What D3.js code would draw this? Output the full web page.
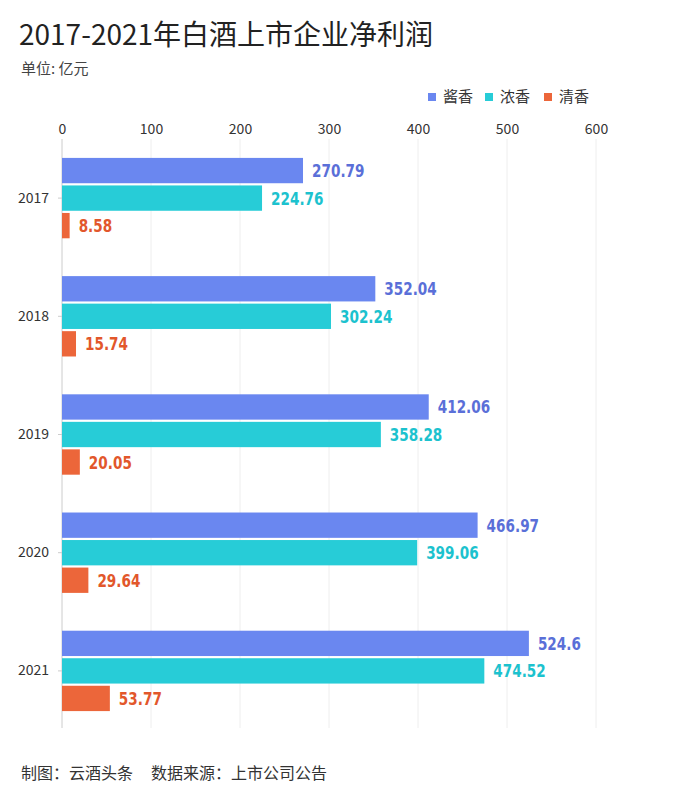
<!DOCTYPE html>
<html>
<head>
<meta charset="utf-8">
<script src="https://cdn.jsdelivr.net/npm/d3@7"></script>
<style>
  body { margin: 0; background: #fff; }
  svg { display: block; font-family: "Noto Sans CJK SC", "Noto Sans", sans-serif; }
  .grid line { stroke: #eeeeee; }
  .val { font-family: "DejaVu Sans Condensed", "DejaVu Sans", sans-serif; font-weight: bold; }
</style>
</head>
<body>
<div id="chart"></div>
<script>
// data
var years = ["2017", "2018", "2019", "2020", "2021"];
var series = ["酱香", "浓香", "清香"];
var jiangxiang = [270.79, 352.04, 412.06, 466.97, 524.6];
var nongxiang = [224.76, 302.24, 358.28, 399.06, 474.52];
var qingxiang = [8.58, 15.74, 20.05, 29.64, 53.77];
var xTicks = [0, 100, 200, 300, 400, 500, 600];

var barColors = ["#6a87f0", "#27ccd7", "#ec663a"];
var labelColors = ["#5a6fd8", "#1cc2ce", "#e2572b"];

var width = 700, height = 800;
var svg = d3.select("#chart").append("svg")
  .attr("width", width)
  .attr("height", height);

// title block
svg.append("text")
  .attr("x", 19).attr("y", 45)
  .attr("font-size", 28)
  .attr("fill", "#222")
  .text("2017-2021年白酒上市企业净利润");

svg.append("text")
  .attr("x", 21).attr("y", 74)
  .attr("font-size", 15)
  .attr("fill", "#444")
  .text("单位: 亿元");

// legend
var legendX = [428, 485, 544];
var legend = svg.selectAll("g.legend")
  .data(series)
  .enter().append("g")
  .attr("class", "legend")
  .attr("transform", function(d, i) { return "translate(" + legendX[i] + ",97)"; });

legend.append("rect")
  .attr("x", 0).attr("y", -4)
  .attr("width", 8).attr("height", 8)
  .attr("fill", function(d, i) { return barColors[i]; });

legend.append("text")
  .attr("x", 15).attr("y", 5)
  .attr("font-size", 15)
  .attr("fill", "#333")
  .text(function(d) { return d; });

// scales
var x = d3.scaleLinear().domain([0, 600]).range([62, 596]);

var y0 = d3.scaleBand()
  .domain(years)
  .range([139, 730])
  .paddingInner(0.32)
  .paddingOuter(0.16);

var y1 = d3.scaleBand()
  .domain(series)
  .range([0, y0.bandwidth()])
  .paddingInner(0.08);

// grid lines
svg.append("g")
  .attr("class", "grid")
  .selectAll("line")
  .data(xTicks.slice(1))
  .enter().append("line")
  .attr("x1", function(d) { return x(d); })
  .attr("x2", function(d) { return x(d); })
  .attr("y1", 139)
  .attr("y2", 728);

// top axis (labels only)
var xAxis = svg.append("g")
  .attr("transform", "translate(0,139)")
  .call(d3.axisTop(x).tickValues(xTicks).tickSize(0).tickPadding(5));
xAxis.select(".domain").remove();
xAxis.selectAll("text")
  .attr("font-size", 14)
  .attr("fill", "#333")
  .attr("font-family", "Noto Sans CJK SC, sans-serif");

// left axis
var yAxis = svg.append("g")
  .attr("transform", "translate(62,0)")
  .call(d3.axisLeft(y0).tickSize(4).tickPadding(9));
yAxis.select(".domain").attr("stroke", "#ccc").attr("d", "M0,139V728");
yAxis.selectAll(".tick line").attr("stroke", "#ccc");
yAxis.selectAll("text")
  .attr("font-size", 14)
  .attr("fill", "#333")
  .attr("font-family", "Noto Sans CJK SC, sans-serif");

// bars
var rows = years.map(function(yr, i) {
  return { year: yr, values: [jiangxiang[i], nongxiang[i], qingxiang[i]] };
});

var groups = svg.selectAll("g.year")
  .data(rows)
  .enter().append("g")
  .attr("class", "year")
  .attr("transform", function(d) { return "translate(0," + y0(d.year) + ")"; });

var cells = groups.selectAll("g.cell")
  .data(function(d) {
    return d.values.map(function(v, k) { return { key: series[k], idx: k, value: v }; });
  })
  .enter().append("g")
  .attr("class", "cell");

cells.append("rect")
  .attr("x", x(0))
  .attr("y", function(d) { return y1(d.key); })
  .attr("width", function(d) { return x(d.value) - x(0); })
  .attr("height", y1.bandwidth())
  .attr("fill", function(d) { return barColors[d.idx]; });

// value labels, squeezed a little to look like the condensed face in the original
cells.append("text")
  .attr("class", "val")
  .attr("transform", function(d) {
    return "translate(" + (x(d.value) + 9) + "," + (y1(d.key) + y1.bandwidth() / 2) + ") scale(0.84,1)";
  })
  .attr("dy", "0.36em")
  .attr("font-size", 18)
  .attr("fill", function(d) { return labelColors[d.idx]; })
  .text(function(d) { return d.value; });

// footer
svg.append("text")
  .attr("x", 21).attr("y", 779)
  .attr("font-size", 16)
  .attr("fill", "#333")
  .text("制图：云酒头条");

svg.append("text")
  .attr("x", 151).attr("y", 779)
  .attr("font-size", 16)
  .attr("fill", "#333")
  .text("数据来源：上市公司公告");
</script>
</body>
</html>
